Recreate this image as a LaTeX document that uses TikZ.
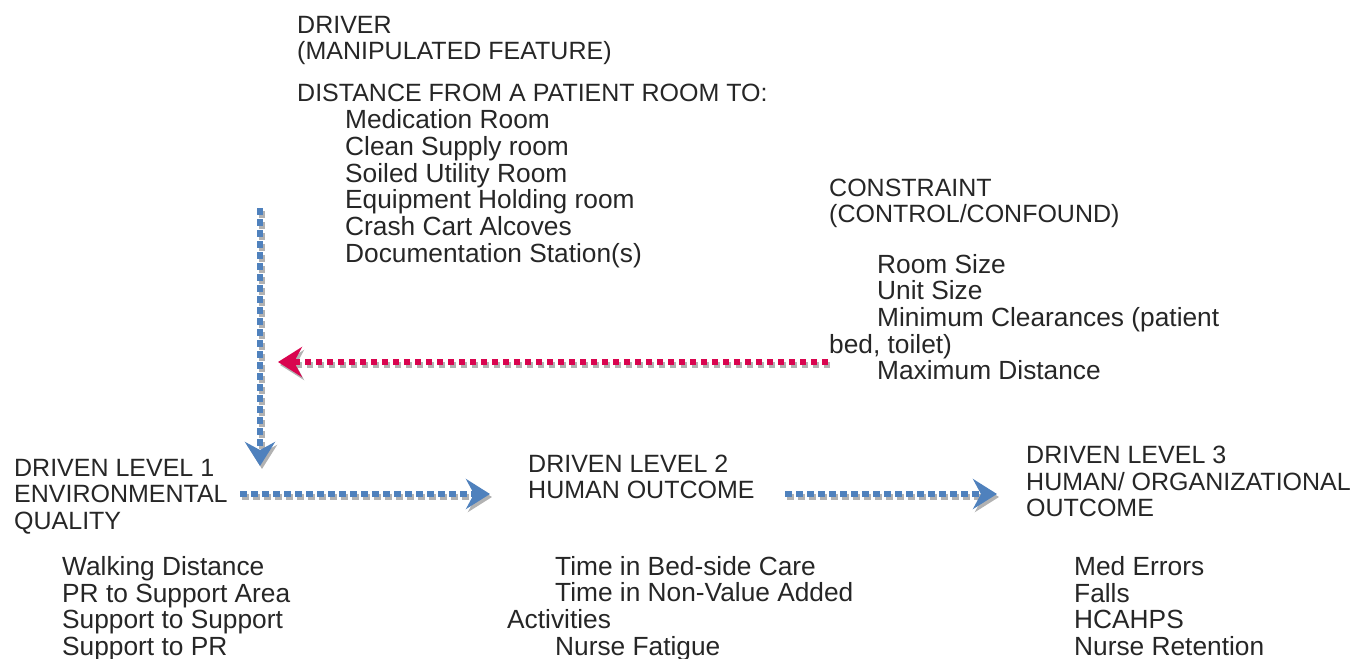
\documentclass[tikz,border=0pt]{standalone}
\usepackage{fontspec}
\setmainfont{Liberation Sans}
\usetikzlibrary{arrows.meta}
\definecolor{arrblue}{HTML}{4F81BD}
\definecolor{arrred}{HTML}{D9044F}
\tikzset{
  txt/.style={anchor=base west, inner sep=0pt, font=\fontsize{25}{30}\selectfont, text=black!85},
  ltxt/.style={txt, font=\fontsize{26.3}{30}\selectfont},
  dotarrow/.style={line width=6.5pt, dash pattern=on 6.5pt off 4.5pt,
     -{Stealth[length=24pt,width=30pt,inset=8pt]}},
  shadowflow/.style={dotarrow, draw=gray!60, transform canvas={shift={(2pt,-3pt)}}},
  blueflow/.style={dotarrow, draw=arrblue},
  redflow/.style={dotarrow, draw=arrred},
}
\begin{document}
\begin{tikzpicture}[x=1pt,y=-1pt]
\useasboundingbox (0,0) rectangle (1369,659);
% Driver
\node[txt] (d1) at (297,33) {DRIVER};
\node[txt] (d2) at (297,59) {(MANIPULATED FEATURE)};
\node[txt] (d3) at (297,101) {DISTANCE FROM A PATIENT ROOM TO:};
\node[ltxt] (d4) at (345,128) {Medication Room};
\node[ltxt] (d5) at (345,155) {Clean Supply room};
\node[ltxt] (d6) at (345,182) {Soiled Utility Room};
\node[ltxt] (d7) at (345,208) {Equipment Holding room};
\node[ltxt] (d8) at (345,235) {Crash Cart Alcoves};
\node[ltxt] (d9) at (345,262) {Documentation Station(s)};
% Constraint
\node[txt] (c1) at (829,196) {CONSTRAINT};
\node[txt] (c2) at (829,222) {(CONTROL/CONFOUND)};
\node[ltxt] (c3) at (877,273) {Room Size};
\node[ltxt] (c4) at (877,299) {Unit Size};
\node[ltxt] (c5) at (877,326) {Minimum Clearances (patient};
\node[ltxt] (c6) at (829,353) {bed, toilet)};
\node[ltxt] (c7) at (877,379) {Maximum Distance};
% Level 1
\node[txt] (a1) at (14,476) {DRIVEN LEVEL 1};
\node[txt] (a2) at (14,502) {ENVIRONMENTAL};
\node[txt] (a3) at (14,529) {QUALITY};
\node[ltxt] (a4) at (62,575) {Walking Distance};
\node[ltxt] (a5) at (62,602) {PR to Support Area};
\node[ltxt] (a6) at (62,628) {Support to Support};
\node[ltxt] (a7) at (62,655) {Support to PR};
% Level 2
\node[txt] (b1) at (528,472) {DRIVEN LEVEL 2};
\node[txt] (b2) at (528,498) {HUMAN OUTCOME};
\node[ltxt] (b3) at (555,575) {Time in Bed-side Care};
\node[ltxt] (b4) at (555,601) {Time in Non-Value Added};
\node[ltxt] (b5) at (507,628) {Activities};
\node[ltxt] (b6) at (555,655) {Nurse Fatigue};
% Level 3
\node[txt] (e1) at (1026,463) {DRIVEN LEVEL 3};
\node[txt] (e2) at (1026,490) {HUMAN/ ORGANIZATIONAL};
\node[txt] (e3) at (1026,516) {OUTCOME};
\node[ltxt] (e4) at (1074,575) {Med Errors};
\node[ltxt] (e5) at (1074,602) {Falls};
\node[ltxt] (e6) at (1074,628) {HCAHPS};
\node[ltxt] (e7) at (1074,655) {Nurse Retention};
% connector ends
\coordinate (vs) at (260,208);
\coordinate (ve) at (260,466);
\coordinate (rs) at (828,362);
\coordinate (re) at (278,362);
\coordinate (h1s) at (240,494);
\coordinate (h1e) at (490,494);
\coordinate (h2s) at (785,494);
\coordinate (h2e) at (997,494);
\draw[shadowflow] (vs) -- (ve);
\draw[shadowflow] (rs) -- (re);
\draw[shadowflow] (h1s) -- (h1e);
\draw[shadowflow] (h2s) -- (h2e);
\draw[blueflow] (vs) -- (ve);
\draw[redflow] (rs) -- (re);
\draw[blueflow] (h1s) -- (h1e);
\draw[blueflow] (h2s) -- (h2e);
\end{tikzpicture}
\end{document}
